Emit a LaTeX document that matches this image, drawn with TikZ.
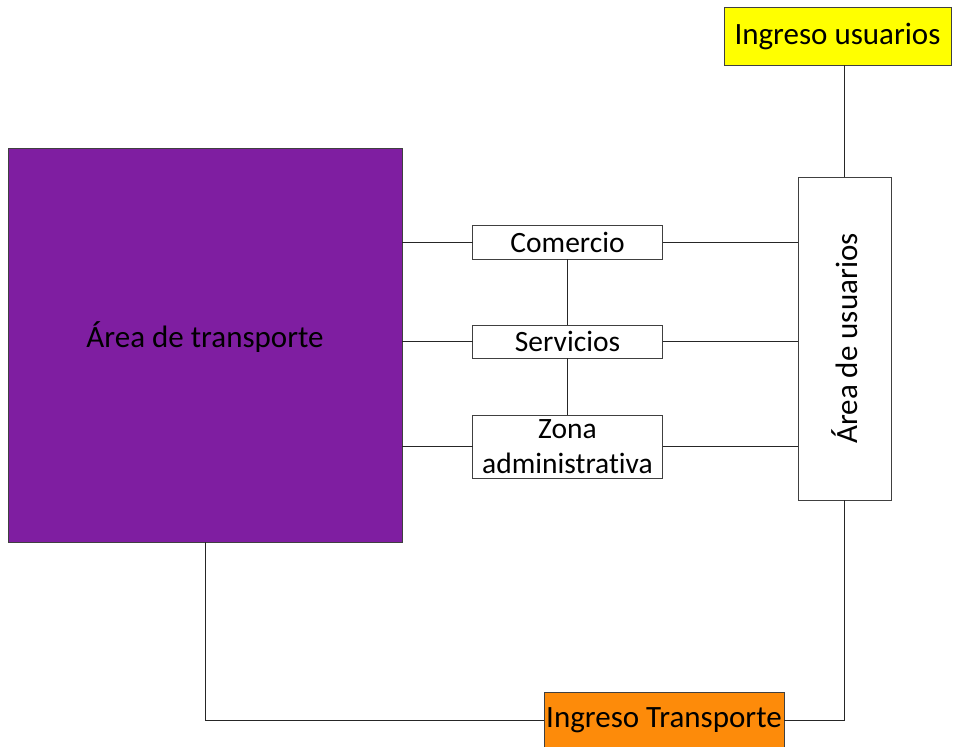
\documentclass[tikz,border=0pt]{standalone}
\usepackage{fontspec}
\setmainfont[Ligatures=NoCommon]{Carlito}
\usetikzlibrary{positioning}
\definecolor{transfill}{HTML}{7F1EA1}
\definecolor{ingufill}{HTML}{FFFF00}
\definecolor{ingtfill}{HTML}{FD8B0A}
\definecolor{boxframe}{HTML}{404040}
\newcommand{\bigfont}{\fontsize{31}{36}\selectfont}
\newcommand{\smallfont}{\fontsize{29.5}{35}\selectfont}
\tikzset{
  areabox/.style={
    draw=boxframe,
    line width=0.9pt,
    align=center,
    inner sep=0pt,
    outer sep=0pt
  },
  bigarea/.style={areabox, font=\bigfont},
  subarea/.style={areabox, fill=white, minimum width=190pt, font=\smallfont},
  link/.style={draw=black!85, line width=0.9pt}
}

\begin{document}
\begin{tikzpicture}[x=1pt, y=-1pt]

  \useasboundingbox (0,0) rectangle (956,747);

  % main areas
  \node[bigarea, fill=transfill, minimum width=394pt, minimum height=394pt] (trans) at (205,345) {\raisebox{8pt}[\height][\depth]{Área de transporte}};
  \node[bigarea, fill=white, minimum width=93pt, minimum height=323pt] (usr) at (844.5,338.5) {\rotatebox{90}{Área de usuarios}};
  \node[bigarea, fill=ingufill, minimum width=227pt, minimum height=58pt] (ingu) at (837.5,36) {Ingreso usuarios};
  \node[bigarea, fill=ingtfill, minimum width=240pt, minimum height=56pt] (ingt) at (664,720) {Ingreso Transporte};

  % middle column
  \node[subarea, minimum height=34pt] (com) at (567.5,242) {Comercio};
  \node[subarea, below=66pt of com, minimum height=33pt] (serv) {Servicios};
  \node[subarea, below=57pt of serv, minimum height=63pt] (zona) {Zona\\administrativa};

  \foreach \n in {com, serv, zona} {
    \draw[link] (\n.west -| trans.east) -- (\n.west);
    \draw[link] (\n.east) -- (\n.east -| usr.west);
  }
  \draw[link] (com) -- (serv);
  \draw[link] (serv) -- (zona);

  \draw[link] (usr.north) -- (usr.north |- ingu.south);
  \draw[link] (usr.south) |- (ingt.east);
  \draw[link] (trans.south) |- (ingt.west);

\end{tikzpicture}
\end{document}
